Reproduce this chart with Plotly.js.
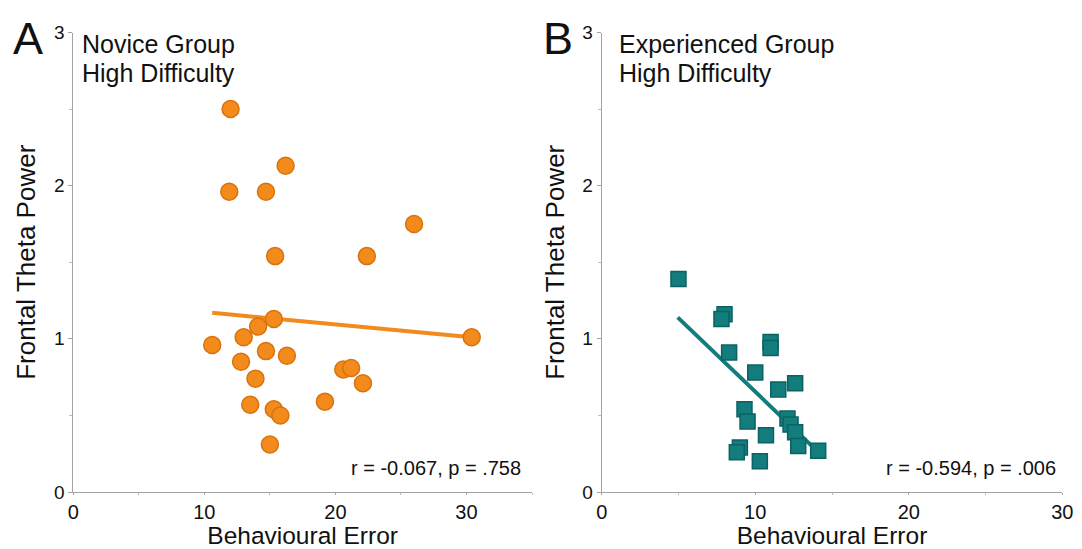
<!DOCTYPE html>
<html>
<head>
<meta charset="utf-8">
<script src="https://cdn.plot.ly/plotly-3.0.1.min.js"></script>
<style>html,body{margin:0;padding:0;background:#fff;}#chart{width:1082px;height:549px;}</style>
</head>
<body>
<div id="chart"></div>
<script>
// Panel A: Novice group, high difficulty
var noviceError = [12.0, 16.2, 11.9, 14.7, 26.0, 15.4, 22.4, 15.3, 14.1, 13.0, 10.6, 30.4, 14.7, 16.3, 12.8, 13.9, 20.6, 21.2, 22.1, 13.5, 19.2, 15.3, 15.8, 15.0];
var noviceTheta = [2.50, 2.13, 1.96, 1.96, 1.75, 1.54, 1.54, 1.13, 1.08, 1.01, 0.96, 1.01, 0.92, 0.89, 0.85, 0.74, 0.80, 0.81, 0.71, 0.57, 0.59, 0.54, 0.50, 0.31];
var noviceFitX = [10.6, 30.4];
var noviceFitY = [1.17, 1.01];

// Panel B: Experienced group, high difficulty
var expertError = [5.0, 8.0, 7.8, 8.3, 11.0, 11.0, 10.0, 12.6, 11.5, 9.3, 9.5, 12.1, 12.3, 12.6, 10.7, 12.8, 14.1, 9.0, 8.8, 10.3];
var expertTheta = [1.39, 1.16, 1.13, 0.91, 0.98, 0.94, 0.78, 0.71, 0.67, 0.54, 0.46, 0.48, 0.44, 0.39, 0.37, 0.30, 0.27, 0.29, 0.26, 0.20];
var expertFitX = [4.95, 13.8];
var expertFitY = [1.14, 0.29];

var xTicksA = [0, 10, 20, 30];
var xTicksB = [0, 10, 20, 30];
var yTicks = [0, 1, 2, 3];

var orange = '#F28A1C', orangeEdge = '#D9720C';
var teal = '#137C7C', tealEdge = '#0C6262';
var font = 'Liberation Sans, Arial, Helvetica, sans-serif';

var traces = [
  {x: noviceFitX, y: noviceFitY, xaxis: 'x', yaxis: 'y', mode: 'lines', line: {color: orange, width: 4}, hoverinfo: 'skip'},
  {x: noviceError, y: noviceTheta, xaxis: 'x', yaxis: 'y', mode: 'markers', marker: {symbol: 'circle', size: 17, color: orange, line: {color: orangeEdge, width: 1.5}}},
  {x: expertFitX, y: expertFitY, xaxis: 'x2', yaxis: 'y2', mode: 'lines', line: {color: teal, width: 4}, hoverinfo: 'skip'},
  {x: expertError, y: expertTheta, xaxis: 'x2', yaxis: 'y2', mode: 'markers', marker: {symbol: 'square', size: 15, color: teal, line: {color: tealEdge, width: 1.5}}}
];

function xAxis(domain, range, ticks, anchor) {
  return {
    domain: domain, range: range, anchor: anchor,
    tickmode: 'array', tickvals: ticks, ticktext: ticks.map(String),
    showgrid: false, zeroline: false, showline: true, linecolor: '#A3A3A3', linewidth: 1,
    ticks: 'outside', ticklen: 2, tickcolor: '#A3A3A3',
    minor: {dtick: 5, ticks: 'outside', ticklen: 2, tickcolor: '#BDBDBD', showgrid: false},
    tickfont: {family: font, size: 20, color: '#111'},
    title: {text: 'Behavioural Error', font: {family: font, size: 24.5, color: '#111'}, standoff: 5},
    fixedrange: true
  };
}
function yAxis(domain, anchor) {
  return {
    domain: domain, range: [0, 3], anchor: anchor,
    tickmode: 'array', tickvals: yTicks, ticktext: yTicks.map(String),
    showgrid: false, zeroline: false, showline: true, linecolor: '#A3A3A3', linewidth: 1,
    ticks: 'outside', ticklen: 4, tickcolor: '#A3A3A3',
    minor: {dtick: 0.5, ticks: 'outside', ticklen: 3, tickcolor: '#BDBDBD', showgrid: false},
    tickfont: {family: font, size: 19, color: '#111'},
    title: {text: 'Frontal Theta Power', font: {family: font, size: 26, color: '#111'}, standoff: 10},
    fixedrange: true
  };
}

var ann = function (text, x, y, xanchor, size) {
  return {text: text, x: x, y: y, xref: 'paper', yref: 'paper', xanchor: xanchor, yanchor: 'middle', showarrow: false, font: {family: font, size: size, color: '#111'}};
};

var W = 1082, H = 549;
var layout = {
  width: W, height: H,
  margin: {l: 0, r: 0, t: 0, b: 0},
  paper_bgcolor: '#fff', plot_bgcolor: '#fff',
  showlegend: false,
  xaxis: xAxis([73.3 / W, 532 / W], [0, 35], xTicksA, 'y'),
  yaxis: yAxis([1 - 492 / H, 1 - 32.5 / H], 'x'),
  xaxis2: xAxis([601.7 / W, 1062.3 / W], [0, 30], xTicksB, 'y2'),
  yaxis2: yAxis([1 - 492 / H, 1 - 32.5 / H], 'x2'),
  annotations: [
    ann('A', 28 / W, 1 - 38 / H, 'center', 45),
    ann('B', 558 / W, 1 - 38 / H, 'center', 45),
    ann('Novice Group', 80 / W, 1 - 44 / H, 'left', 25),
    ann('High Difficulty', 80 / W, 1 - 73 / H, 'left', 25),
    ann('Experienced Group', 617 / W, 1 - 44 / H, 'left', 25),
    ann('High Difficulty', 617 / W, 1 - 73 / H, 'left', 25),
    ann('r = -0.067, p = .758', 523 / W, 1 - 468 / H, 'right', 20),
    ann('r = -0.594, p = .006', 1058 / W, 1 - 468 / H, 'right', 20)
  ]
};

Plotly.newPlot('chart', traces, layout, {displayModeBar: false, staticPlot: true});
</script>
</body>
</html>
